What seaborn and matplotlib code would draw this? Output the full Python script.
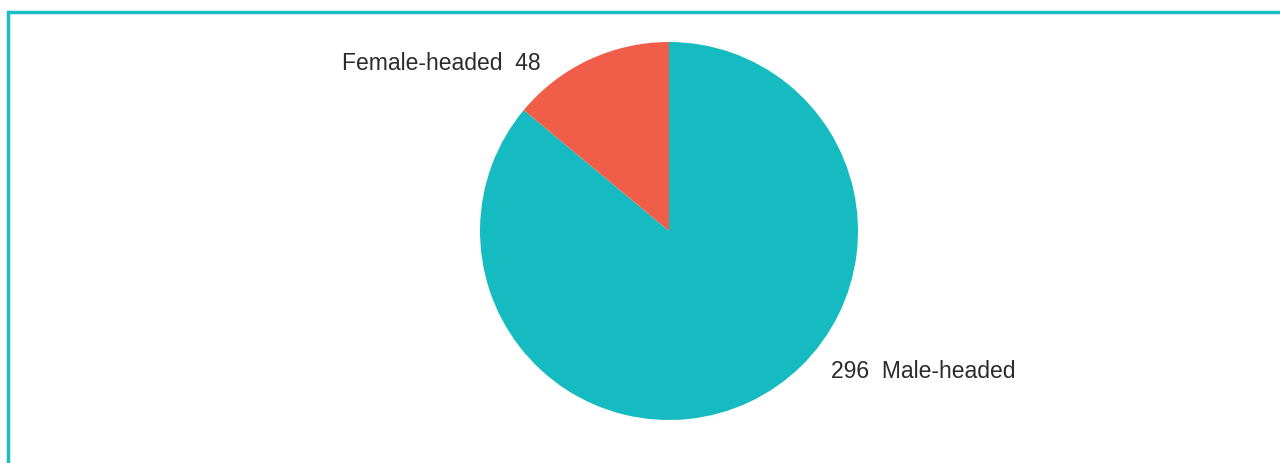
import matplotlib
matplotlib.use("Agg")
import matplotlib.pyplot as plt
import seaborn as sns
from matplotlib.patches import Rectangle

sns.set_theme(style="white")
plt.rcParams['font.family'] = ['Liberation Sans', 'DejaVu Sans']

categories = ["Male-headed", "Female-headed"]
values = [296, 48]
colors = ["#16BBC1", "#F05E4A"]

W, H = 1280, 463
fig = plt.figure(figsize=(W / 100, H / 100), dpi=100)
fig.patch.set_facecolor("white")

cx, cy, r = 669, 231, 189
ax = fig.add_axes([(cx - r) / W, (H - cy - r) / H, 2 * r / W, 2 * r / H])
ax.pie(values, colors=colors, startangle=90, counterclock=False, radius=1.0,
       wedgeprops=dict(linewidth=0))
ax.set_xlim(-1, 1)
ax.set_ylim(-1, 1)
ax.set_aspect("auto")
ax.axis("off")

txt_color = "#2b2b2b"
fig.text(541 / W, 1 - 63 / H, f"{categories[1]}  {values[1]}", ha="right", va="center",
         fontsize=16.5, color=txt_color)
fig.text(831 / W, 1 - 371 / H, f"{values[0]}  {categories[0]}", ha="left", va="center",
         fontsize=16.5, color=txt_color)

fig.patches.append(Rectangle((8 / W, -0.2), 1.2, 0.2 + (1 - 12 / H), transform=fig.transFigure,
                             fill=False, edgecolor="#18BEC4", linewidth=2.5, figure=fig))

fig.savefig("out.png", dpi=100)
